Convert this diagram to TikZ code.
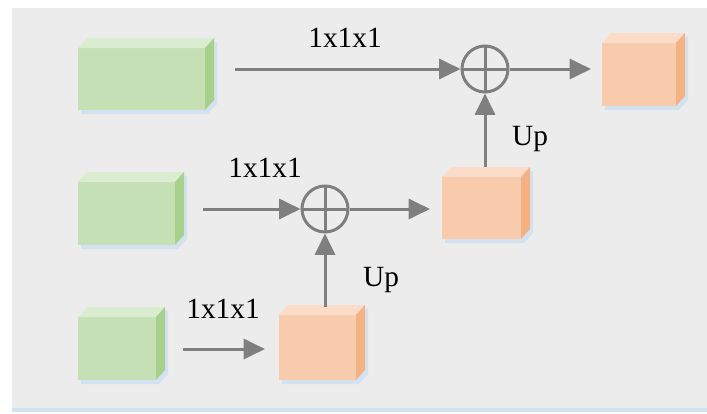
\documentclass[tikz,border=0pt]{standalone}
\usepackage{fontspec}
\setmainfont{Liberation Serif}
\usetikzlibrary{arrows.meta,calc}
\definecolor{panel}{HTML}{ECECEC}
\definecolor{gfront}{HTML}{C6E0B5}
\definecolor{gtop}{HTML}{DAEDD0}
\definecolor{gside}{HTML}{A8D08D}
\definecolor{ofront}{HTML}{F8CBAD}
\definecolor{otop}{HTML}{FBDCC8}
\definecolor{oside}{HTML}{F4B183}
\definecolor{arrowgray}{HTML}{7F7F7F}
\definecolor{shadowblue}{HTML}{D3E2F0}
\pgfdeclarelayer{bg}\pgfdeclarelayer{sh}\pgfsetlayers{bg,sh,main}
\tikzset{
 gbox/.style={rectangle, fill=gfront, inner sep=0pt, outer sep=0pt},
 obox/.style={rectangle, fill=ofront, inner sep=0pt, outer sep=0pt},
 arr/.style={draw=arrowgray, line width=2.25pt, -{Triangle[length=16pt,width=15pt]}},
 sumnode/.style={circle, draw=arrowgray, line width=2.25pt, minimum size=34.5pt, inner sep=0pt,
   path picture={\draw[arrowgray, line width=2.25pt]
     (path picture bounding box.north) -- (path picture bounding box.south)
     (path picture bounding box.west) -- (path picture bounding box.east);}},
 lbl/.style={font=\fontsize{22}{25}\selectfont, inner sep=0pt},
}
\newcommand\cubesides[3]{%
 \fill[#2] (#1.north west) -- ++(9,-10) -- ($(#1.north east)+(9,-10)$) -- (#1.north east) -- cycle;
 \fill[#3] (#1.north east) -- ++(9,-10) -- ($(#1.south east)+(9,-10)$) -- (#1.south east) -- cycle;
 \begin{pgfonlayer}{sh}
 \fill[shadowblue] ($(#1.north west)+(3,4)$) -- ($(#1.north east)+(12,-6)$) -- ($(#1.south east)+(12,-6)$) -- ($(#1.south east)+(3,4)$) -- ($(#1.south west)+(3,4)$) -- cycle;
 \end{pgfonlayer}}
\begin{document}
\begin{tikzpicture}[x=0.75pt,y=-0.75pt]
\useasboundingbox (0,0) rectangle (707,414);
\begin{pgfonlayer}{bg}
\fill[shadowblue] (12,406) rectangle (707,412);
\fill[panel] (12,8) rectangle (707,408);
\end{pgfonlayer}
% boxes
\node[gbox, minimum width=95.25pt, minimum height=46.5pt] (g1) at (141.5,79) {};
\node[gbox, minimum width=72.75pt, minimum height=47.25pt] (g2) at (126.5,213.5) {};
\node[gbox, minimum width=58.5pt, minimum height=47.25pt] (g3) at (117,348.5) {};
\node[obox, minimum width=57.75pt, minimum height=48.75pt] (o1) at (317.5,347.5) {};
\node[obox, minimum width=59.25pt, minimum height=46.5pt] (o2) at (481.5,208) {};
\node[obox, minimum width=55.5pt, minimum height=47.25pt] (o3) at (639,74.5) {};
\cubesides{g1}{gtop}{gside}
\cubesides{g2}{gtop}{gside}
\cubesides{g3}{gtop}{gside}
\cubesides{o1}{otop}{oside}
\cubesides{o2}{otop}{oside}
\cubesides{o3}{otop}{oside}
% sums
\node[sumnode] (c1) at (485,69) {};
\node[sumnode] (c2) at (325,209) {};
% connector ends
\coordinate (s1) at (235,69);
\coordinate (e1) at (591,69);
\coordinate (s2) at (203,209);
\coordinate (e2) at (430,209);
\coordinate (s3) at (183,349);
\coordinate (e3) at (265,349);
\coordinate (o1t) at (325,307);
\coordinate (o2t) at (485,167);
\draw[arr] (s1) -- (c1);
\draw[arr] (c1) -- (e1);
\draw[arr] (s2) -- (c2);
\draw[arr] (c2) -- (e2);
\draw[arr] (s3) -- (e3);
\draw[arr] (o1t) -- (c2);
\draw[arr] (o2t) -- (c1);
% labels
\node[lbl] (l1) at (345,38) {1x1x1};
\node[lbl] (l2) at (265,168) {1x1x1};
\node[lbl] (l3) at (223,309) {1x1x1};
\node[lbl] (u1) at (530,139) {Up};
\node[lbl] (u2) at (381,280) {Up};
\end{tikzpicture}
\end{document}
